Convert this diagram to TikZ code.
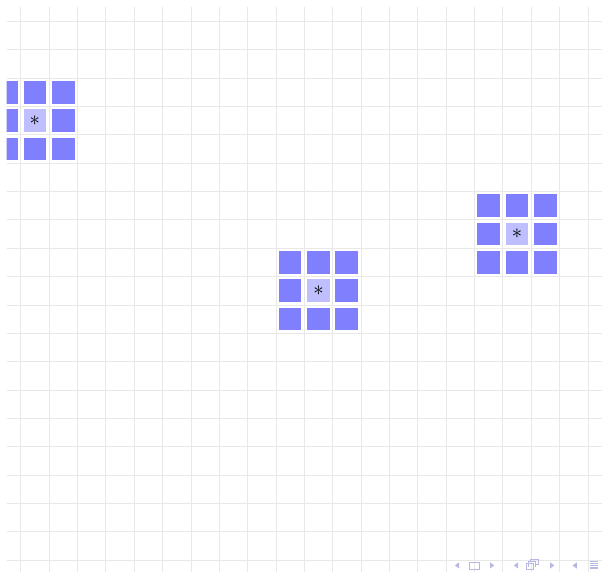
\documentclass[tikz,border=0pt]{standalone}
\definecolor{navcolor}{rgb}{0.72,0.72,0.90}

\begin{document}
\begin{tikzpicture}[
    gridline/.style={gray!18, line width=0.6pt},
    cell/.style={fill=blue!50, minimum size=0.8cm, inner sep=0pt},
    centrecell/.style={cell, fill=blue!25, font=\huge},
    navsym/.style={fill=navcolor},
    navbox/.style={draw=navcolor, line width=0.5pt},
  ]
\useasboundingbox (-0.73,0.75) rectangle (20.50,-19.42);

% background grid and the three neighbourhoods, clipped to the grid area
\begin{scope}
  \clip (-0.5,-19.5) rectangle (20.6,0.5);
  \draw[gridline] (-0.5,-19.5) grid (20.5,0.5);
  \foreach \cx/\cy/\nm in {0.5/-3.5/left, 10.5/-9.5/mid, 17.5/-7.5/right} {
    \foreach \dx in {-1,0,1}
      \foreach \dy in {-1,0,1}
        \node[cell, name=\nm-\dx-\dy] at (\cx+\dx,\cy+\dy) {};
    \node[centrecell, name=\nm-star] at (\cx,\cy) {$\ast$};
  }
\end{scope}

% navigation symbols in the lower right corner
\fill[navsym] (15.31,-19.19) -- ++(0.15,0.11) -- ++(0,-0.22) -- cycle;
\draw[navbox] (15.83,-19.31) rectangle (16.17,-19.07);
\fill[navsym] (16.70,-19.19) -- ++(-0.15,0.11) -- ++(0,-0.22) -- cycle;
\fill[navsym] (17.39,-19.19) -- ++(0.15,0.11) -- ++(0,-0.22) -- cycle;
\draw[navbox] (17.82,-19.32) rectangle (18.08,-19.12);
\draw[navbox] (17.90,-19.24) -- (17.90,-19.04) -- (18.16,-19.04) -- (18.16,-19.24);
\draw[navbox] (17.98,-19.04) -- (17.98,-18.96) -- (18.24,-18.96) -- (18.24,-19.16) -- (18.16,-19.16);
\fill[navsym] (18.82,-19.19) -- ++(-0.15,0.11) -- ++(0,-0.22) -- cycle;
\fill[navsym] (19.46,-19.19) -- ++(0.15,0.11) -- ++(0,-0.22) -- cycle;
\foreach \ly in {-19.06,-19.12,-19.18,-19.24,-19.30}
  \draw[navbox] (20.06,\ly) -- (20.36,\ly);
\end{tikzpicture}
\end{document}
